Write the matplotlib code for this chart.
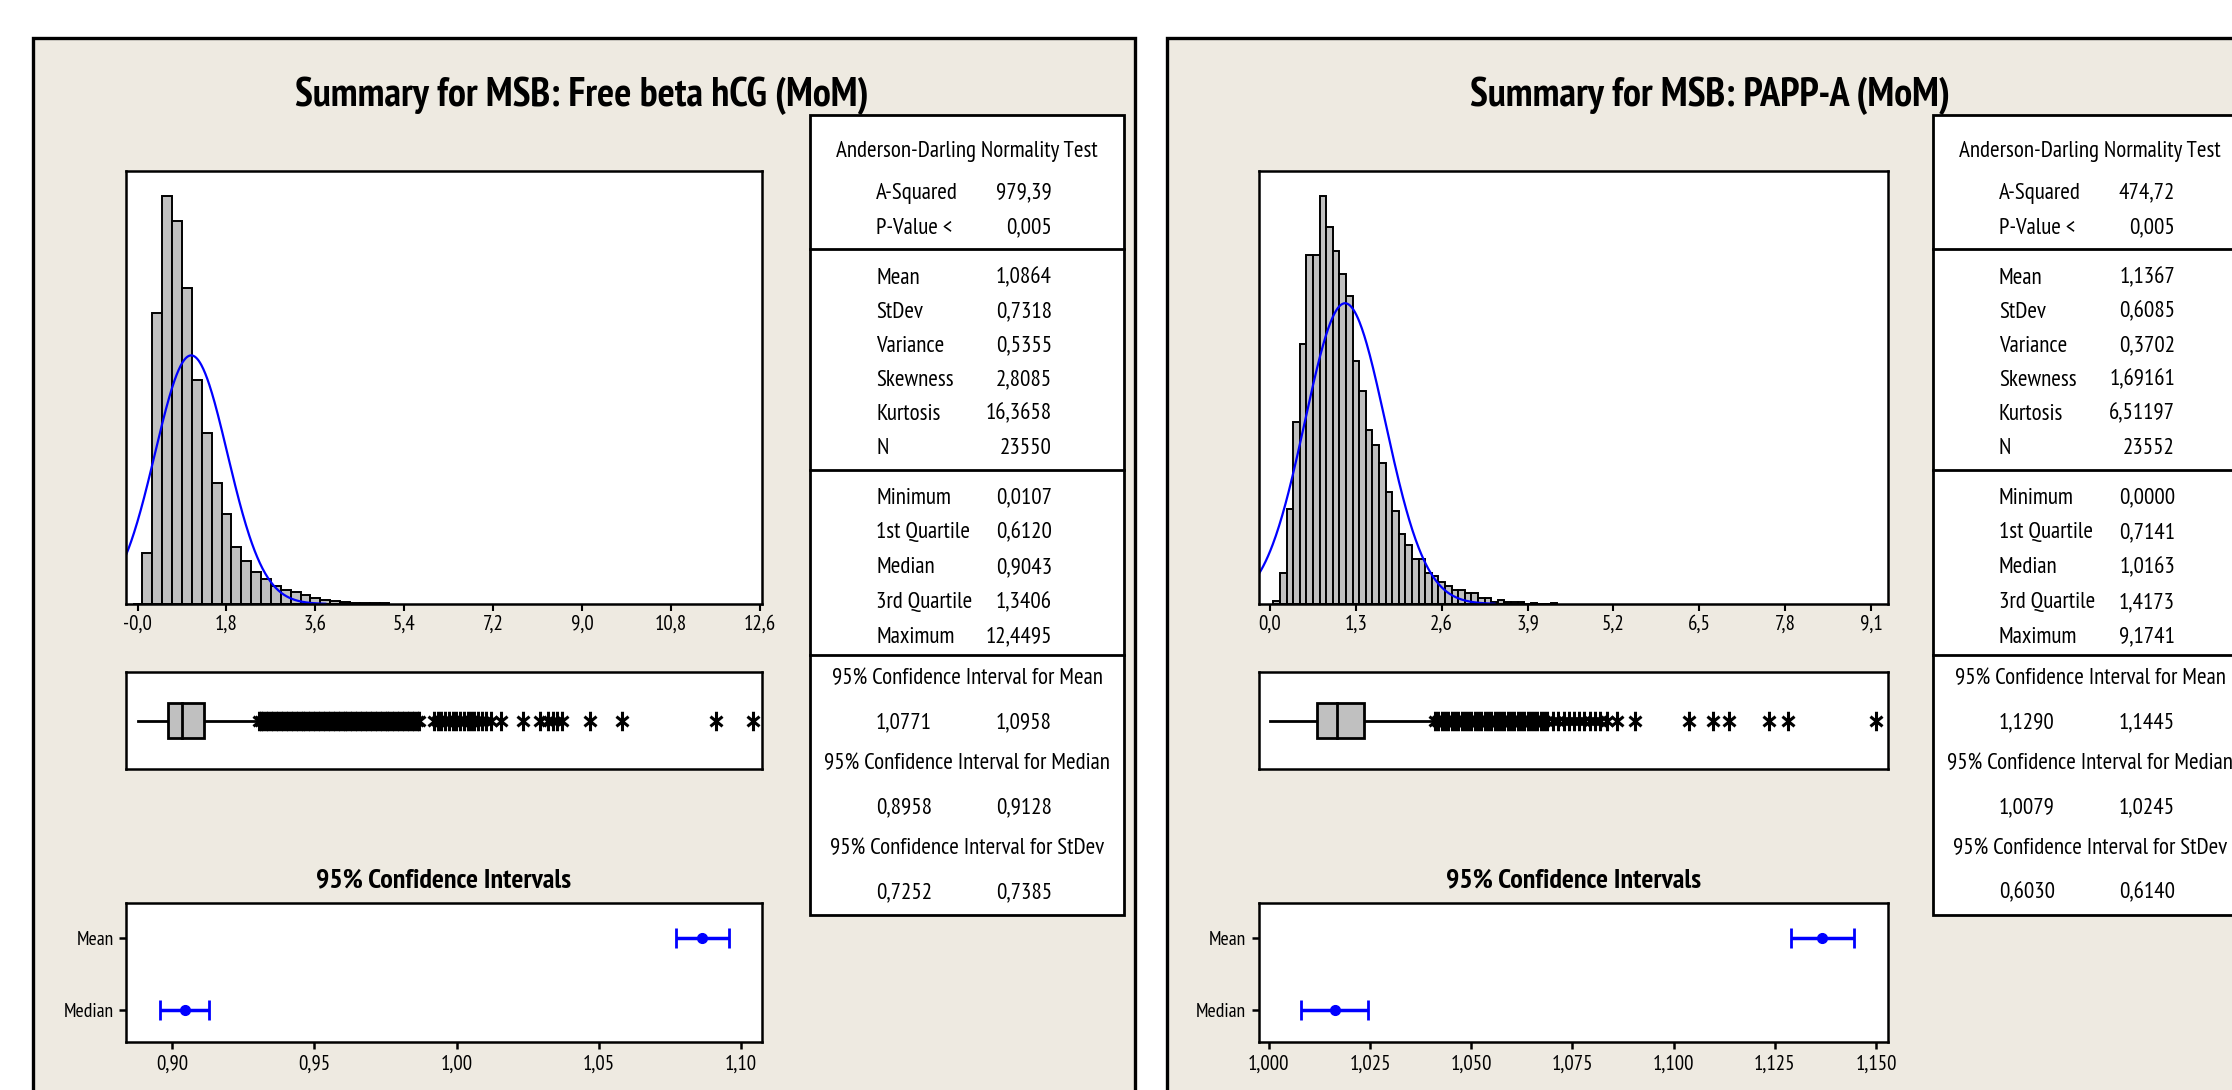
import numpy as np
import matplotlib
matplotlib.use("Agg")
import matplotlib.pyplot as plt
from matplotlib import font_manager
from matplotlib.path import Path
from matplotlib.patches import Rectangle

W, H = 2232, 1090

# ---------------- left panel: Free beta hCG ----------------
hcg_title = "Summary for MSB: Free beta hCG (MoM)"
hcg_bin_mid = [0.0, 0.2, 0.4, 0.6, 0.8, 1.0, 1.2, 1.4, 1.6, 1.8, 2.0, 2.2, 2.4,
               2.6, 2.8, 3.0, 3.2, 3.4, 3.6, 3.8, 4.0, 4.2, 4.4, 4.6, 4.8, 5.0]
hcg_counts = [4, 523, 3003, 4218, 3956, 3268, 2315, 1765, 1249, 929, 585, 440, 327,
              258, 182, 148, 120, 89, 62, 40, 28, 20, 14, 10, 8, 6]
hcg_bin_w = 0.2
hcg_xticks = [0.0, 1.8, 3.6, 5.4, 7.2, 9.0, 10.8, 12.6]
hcg_xlabels = ["-0,0", "1,8", "3,6", "5,4", "7,2", "9,0", "10,8", "12,6"]
hcg_whisker_hi = 2.43
hcg_outliers = [2.45, 2.5, 2.55, 2.6, 2.65, 2.7, 2.75, 2.8, 2.85, 2.9, 2.95, 3.0,
                3.05, 3.1, 3.15, 3.2, 3.25, 3.3, 3.35, 3.4, 3.45, 3.5, 3.55, 3.6,
                3.65, 3.7, 3.75, 3.8, 3.85, 3.9, 3.95, 4.0, 4.05, 4.1, 4.15, 4.2,
                4.25, 4.3, 4.35, 4.4, 4.45, 4.5, 4.55, 4.6, 4.65, 4.7, 4.75, 4.8,
                4.85, 4.9, 4.95, 5.0, 5.05, 5.1, 5.15, 5.2, 5.25, 5.3, 5.35, 5.4,
                5.45, 5.5, 5.55, 5.6, 5.65, 5.7,
                6.0, 6.08, 6.15, 6.22, 6.3, 6.38, 6.45, 6.52, 6.6, 6.68, 6.75, 6.82,
                6.9, 6.98, 7.05, 7.15, 7.35, 7.8, 8.15, 8.3, 8.4, 8.5, 8.6, 9.15,
                9.8, 11.7, 12.45]
hcg_ad = [("A-Squared", "979,39"), ("P-Value <", "0,005")]
hcg_desc = [("Mean", "1,0864"), ("StDev", "0,7318"), ("Variance", "0,5355"),
            ("Skewness", "2,8085"), ("Kurtosis", "16,3658"), ("N", "23550")]
hcg_quant = [("Minimum", "0,0107"), ("1st Quartile", "0,6120"), ("Median", "0,9043"),
             ("3rd Quartile", "1,3406"), ("Maximum", "12,4495")]
hcg_ci = [("Mean", "1,0771", "1,0958"), ("Median", "0,8958", "0,9128"),
          ("StDev", "0,7252", "0,7385")]
hcg_ci_ticks = [0.90, 0.95, 1.00, 1.05, 1.10]
hcg_ci_labels = ["0,90", "0,95", "1,00", "1,05", "1,10"]

# ---------------- right panel: PAPP-A ----------------
papp_title = "Summary for MSB: PAPP-A (MoM)"
papp_bin_mid = [0.1, 0.2, 0.3, 0.4, 0.5, 0.6, 0.7, 0.8, 0.9, 1.0, 1.1, 1.2, 1.3, 1.4,
                1.5, 1.6, 1.7, 1.8, 1.9, 2.0, 2.1, 2.2, 2.3, 2.4, 2.5, 2.6, 2.7, 2.8,
                2.9, 3.0, 3.1, 3.2, 3.3, 3.4, 3.5, 3.6, 3.7, 3.8, 3.9, 4.0, 4.1, 4.2, 4.3]
papp_counts = [14, 159, 489, 934, 1336, 1792, 1792, 2096, 1937, 1813, 1693, 1582, 1248,
               1094, 891, 817, 723, 575, 475, 359, 301, 233, 233, 159, 145, 111, 91, 74,
               74, 56, 56, 31, 31, 12, 20, 10, 8, 8, 0, 5, 0, 0, 5]
papp_bin_w = 0.1
papp_xticks = [0.0, 1.3, 2.6, 3.9, 5.2, 6.5, 7.8, 9.1]
papp_xlabels = ["0,0", "1,3", "2,6", "3,9", "5,2", "6,5", "7,8", "9,1"]
papp_whisker_hi = 2.47
papp_outliers = [2.5, 2.55, 2.6, 2.65, 2.7, 2.75, 2.8, 2.85, 2.9, 2.95, 3.0, 3.05,
                 3.1, 3.15, 3.2, 3.25, 3.3, 3.35, 3.4, 3.45, 3.5, 3.55, 3.6, 3.65,
                 3.7, 3.75, 3.8, 3.85, 3.9, 3.95, 4.0, 4.05, 4.1, 4.15, 4.2,
                 4.28, 4.36, 4.45, 4.52, 4.6, 4.68, 4.76, 4.85, 4.92, 5.0, 5.1, 5.25,
                 5.53, 6.34, 6.71, 6.95, 7.56, 7.85, 9.17]
papp_ad = [("A-Squared", "474,72"), ("P-Value <", "0,005")]
papp_desc = [("Mean", "1,1367"), ("StDev", "0,6085"), ("Variance", "0,3702"),
             ("Skewness", "1,69161"), ("Kurtosis", "6,51197"), ("N", "23552")]
papp_quant = [("Minimum", "0,0000"), ("1st Quartile", "0,7141"), ("Median", "1,0163"),
              ("3rd Quartile", "1,4173"), ("Maximum", "9,1741")]
papp_ci = [("Mean", "1,1290", "1,1445"), ("Median", "1,0079", "1,0245"),
           ("StDev", "0,6030", "0,6140")]
papp_ci_ticks = [1.000, 1.025, 1.050, 1.075, 1.100, 1.125, 1.150]
papp_ci_labels = ["1,000", "1,025", "1,050", "1,075", "1,100", "1,125", "1,150"]

# ---------------- fonts: a narrow face if there is one ----------------
names = {f.name for f in font_manager.fontManager.ttflist}
FAMILY = "DejaVu Sans"
for cand in ["PT Sans Narrow", "Archivo Narrow", "Liberation Sans Narrow",
             "Roboto Condensed", "Fira Sans Condensed", "Open Sans Condensed"]:
    if cand in names:
        FAMILY = cand
        break
plt.rcParams["font.family"] = [FAMILY, "DejaVu Sans"]

PANEL = "#EEEAE1"
GREY = "#C0C0C0"
BLUE = "#0000FF"

# asterisk marker, a little narrower than tall like the original
ast = Path([(0, -1), (0, 1), (-0.62, -0.5), (0.62, 0.5), (-0.62, 0.5), (0.62, -0.5)],
           [Path.MOVETO, Path.LINETO] * 3)


def num(s):
    return float(s.replace(",", "."))


fig = plt.figure(figsize=(W / 100, H / 100), dpi=100, facecolor="white")
renderer = fig.canvas.get_renderer()


def fit_size(text, width_px, weight="normal"):
    # font size that makes `text` about width_px wide
    t = fig.text(0, 0, text, fontsize=20, fontweight=weight)
    w = t.get_window_extent(renderer=renderer).width
    t.remove()
    return 20 * width_px / w


FS_TITLE = fit_size(hcg_title, 573, "bold")
FS_CI_TITLE = fit_size("95% Confidence Intervals", 254, "bold")
FS_TAB = fit_size("Anderson-Darling Normality Test", 260)
FS_YLAB = fit_size("Median", 50)
FS_XTICK = fit_size("0,95", 32)


def px_axes(x0, y0, x1, y1):
    ax = fig.add_axes([x0 / W, 1 - y1 / H, (x1 - x0) / W, (y1 - y0) / H], zorder=2)
    for s in ax.spines.values():
        s.set_linewidth(1.8)
    return ax


def draw_table(bg, x0, ad, desc, quant, ci):
    w = 314
    fs = FS_TAB
    bg.add_patch(Rectangle((x0, 115), w, 800, facecolor="white", edgecolor="black",
                           lw=2, zorder=1))
    for y in (249, 470, 655):
        bg.plot([x0, x0 + w], [y, y], color="black", lw=2, zorder=2)
    lx, rx, cx = x0 + 66, x0 + 242, x0 + w / 2
    bg.text(cx, 152, "Anderson-Darling Normality Test", ha="center", va="center", fontsize=fs)
    for i, (lab, val) in enumerate(ad):
        y = 193 + i * 35
        bg.text(lx, y, lab, ha="left", va="center", fontsize=fs)
        bg.text(rx, y, val, ha="right", va="center", fontsize=fs)
    for i, (lab, val) in enumerate(desc):
        y = 278 + i * 34
        bg.text(lx, y, lab, ha="left", va="center", fontsize=fs)
        bg.text(rx, y, val, ha="right", va="center", fontsize=fs)
    for i, (lab, val) in enumerate(quant):
        y = 498 + i * 34.8
        bg.text(lx, y, lab, ha="left", va="center", fontsize=fs)
        bg.text(rx, y, val, ha="right", va="center", fontsize=fs)
    for i, (lab, lo, hi) in enumerate(ci):
        y = 679 + i * 85
        bg.text(cx, y, f"95% Confidence Interval for {lab}", ha="center", va="center", fontsize=fs)
        bg.text(lx, y + 44, lo, ha="left", va="center", fontsize=fs)
        bg.text(rx, y + 44, hi, ha="right", va="center", fontsize=fs)


def draw_panel(bg, box, title, title_x, mids, counts, bw, xlim, ylim_top, xticks,
               xlabels, curve_end, whi, outliers, ad, desc, quant, ci, ci_ticks,
               ci_labels, ci_xlim, table_x):
    hx0, hx1 = box
    bg.text(title_x, 96, title, ha="center", va="center", fontsize=FS_TITLE, fontweight="bold")

    mean = num(desc[0][1])
    sd = num(desc[1][1])
    n = num(desc[5][1])

    # histogram with fitted normal curve
    ax = px_axes(hx0, 171, hx1, 604)
    ax.bar(mids, counts, width=bw, color=GREY, edgecolor="black", linewidth=1.4)
    xs = np.linspace(xlim[0], curve_end, 300)
    ys = n * bw / (sd * np.sqrt(2 * np.pi)) * np.exp(-0.5 * ((xs - mean) / sd) ** 2)
    ax.plot(xs, ys, color=BLUE, lw=1.6)
    ax.set_xlim(*xlim)
    ax.set_ylim(0, ylim_top)
    ax.set_yticks([])
    ax.set_xticks(xticks)
    ax.set_xticklabels(xlabels, fontsize=FS_XTICK)
    ax.tick_params(axis="x", length=5, width=1.5, pad=3)

    # boxplot
    q1, med, q3 = num(quant[1][1]), num(quant[2][1]), num(quant[3][1])
    lo = num(quant[0][1])
    bx = px_axes(hx0, 672, hx1, 769)
    bx.plot([lo, q1], [0, 0], color="black", lw=2)
    bx.plot([q3, whi], [0, 0], color="black", lw=2)
    bx.add_patch(Rectangle((q1, -0.37), q3 - q1, 0.74, facecolor=GREY,
                           edgecolor="black", lw=2, zorder=3))
    bx.plot([med, med], [-0.37, 0.37], color="black", lw=2, zorder=4)
    bx.plot(outliers, [0] * len(outliers), linestyle="none", marker=ast, ms=14,
            mec="black", mew=2.2, mfc="none")
    bx.set_xlim(*xlim)
    bx.set_ylim(-1, 1)
    bx.set_xticks([])
    bx.set_yticks([])

    # confidence intervals
    cax = px_axes(hx0, 903, hx1, 1042)
    bg.text((hx0 + hx1) / 2, 880, "95% Confidence Intervals", ha="center", va="center",
            fontsize=FS_CI_TITLE, fontweight="bold")
    m_lo, m_hi = num(ci[0][1]), num(ci[0][2])
    d_lo, d_hi = num(ci[1][1]), num(ci[1][2])
    cax.errorbar([mean, med], [1, 0], xerr=[[mean - m_lo, med - d_lo], [m_hi - mean, d_hi - med]],
                 fmt="o", color=BLUE, ms=7, elinewidth=2.5, capsize=7, capthick=2)
    cax.set_xlim(*ci_xlim)
    cax.set_ylim(-0.44, 1.48)
    cax.set_yticks([1, 0])
    cax.set_yticklabels(["Mean", "Median"], fontsize=FS_YLAB)
    cax.set_xticks(ci_ticks)
    cax.set_xticklabels(ci_labels, fontsize=FS_XTICK)
    cax.tick_params(length=5, width=1.8, pad=4)

    draw_table(bg, table_x, ad, desc, quant, ci)


bg = fig.add_axes([0, 0, 1, 1], zorder=0)
bg.set_xlim(0, W)
bg.set_ylim(H, 0)
bg.axis("off")

# panel backgrounds
bg.add_patch(Rectangle((33, 38), 1135 - 33, 1070, facecolor=PANEL, edgecolor="black", lw=2.4))
bg.add_patch(Rectangle((1167, 38), 1090, 1070, facecolor=PANEL, edgecolor="black", lw=2.4))

draw_panel(bg, (126, 762), hcg_title, 582, hcg_bin_mid, hcg_counts, hcg_bin_w,
           (-0.233, 12.64), 4472, hcg_xticks, hcg_xlabels, 3.8, hcg_whisker_hi,
           hcg_outliers, hcg_ad, hcg_desc, hcg_quant, hcg_ci, hcg_ci_ticks,
           hcg_ci_labels, (0.8837, 1.1074), 810)

draw_panel(bg, (1258.5, 1887.5), papp_title, 1710, papp_bin_mid, papp_counts,
           papp_bin_w, (-0.174, 9.35), 2223, papp_xticks, papp_xlabels, 3.4,
           papp_whisker_hi, papp_outliers, papp_ad, papp_desc, papp_quant, papp_ci,
           papp_ci_ticks, papp_ci_labels, (0.99745, 1.15284), 1933)

fig.savefig("out.png", dpi=100, facecolor="white")
